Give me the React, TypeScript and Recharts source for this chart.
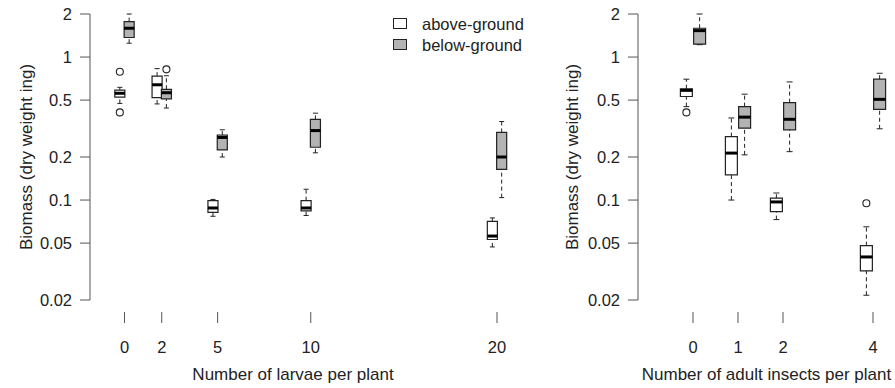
import React from 'react';
import { ComposedChart, XAxis, YAxis, Scatter, ReferenceArea, ReferenceLine } from 'recharts';

// Number of larvae per plant; each row is [min, q1, median, q3, max]
const larvaeCounts = [0, 2, 5, 10, 20];
const larvaeAbove = [
  [0.474, 0.524, 0.558, 0.588, 0.614],
  [0.47, 0.52, 0.64, 0.735, 0.83],
  [0.077, 0.082, 0.088, 0.099, 0.101],
  [0.078, 0.084, 0.088, 0.099, 0.119],
  [0.047, 0.053, 0.056, 0.071, 0.075],
];
const larvaeBelow = [
  [1.25, 1.37, 1.59, 1.77, 2.0],
  [0.44, 0.51, 0.563, 0.595, 0.74],
  [0.2, 0.224, 0.274, 0.285, 0.31],
  [0.214, 0.234, 0.306, 0.367, 0.405],
  [0.104, 0.164, 0.2, 0.297, 0.354],
];
const larvaeAboveOutliers = [[0, 0.79], [0, 0.41]];
const larvaeBelowOutliers = [[2, 0.82]];

// Number of adult insects per plant
const adultCounts = [0, 1, 2, 4];
const adultAbove = [
  [0.45, 0.53, 0.585, 0.6, 0.7],
  [0.1, 0.15, 0.213, 0.278, 0.375],
  [0.073, 0.083, 0.097, 0.103, 0.112],
  [0.0216, 0.032, 0.04, 0.048, 0.065],
];
const adultBelow = [
  [1.22, 1.23, 1.53, 1.59, 2.0],
  [0.207, 0.318, 0.38, 0.45, 0.55],
  [0.218, 0.31, 0.367, 0.48, 0.67],
  [0.315, 0.43, 0.506, 0.7, 0.77],
];
const adultAboveOutliers = [[0, 0.41], [4, 0.095]];
const adultBelowOutliers: number[][] = [];

const yTicks = [0.02, 0.05, 0.1, 0.2, 0.5, 1, 2];
const legendLabels = ['above-ground', 'below-ground'];

const INK = '#222';
const AXIS = '#555';
const GREY = '#b3b3b3';
const FONT = '"Liberation Sans", Arial, sans-serif';
const Y_AXIS_W = 90;

// whiskers, caps, box and median for one series, all placed in data units
function boxMarks(cats: number[], stats: number[][], shift: number, half: number, fill: string, id: string) {
  const cap = half / 2;
  return cats.flatMap((c, i) => {
    const [lo, q1, med, q3, hi] = stats[i];
    const x = c + shift;
    return [
      <ReferenceLine key={id + i + 'lw'} segment={[{ x, y: lo }, { x, y: q1 }]} stroke={INK} strokeDasharray="4 3" ifOverflow="visible" />,
      <ReferenceLine key={id + i + 'uw'} segment={[{ x, y: q3 }, { x, y: hi }]} stroke={INK} strokeDasharray="4 3" ifOverflow="visible" />,
      <ReferenceLine key={id + i + 'lc'} segment={[{ x: x - cap, y: lo }, { x: x + cap, y: lo }]} stroke={INK} ifOverflow="visible" />,
      <ReferenceLine key={id + i + 'uc'} segment={[{ x: x - cap, y: hi }, { x: x + cap, y: hi }]} stroke={INK} ifOverflow="visible" />,
      <ReferenceArea key={id + i + 'bx'} x1={x - half} x2={x + half} y1={q1} y2={q3} fill={fill} fillOpacity={1} stroke={INK} strokeWidth={1.2} ifOverflow="visible" />,
      <ReferenceLine key={id + i + 'md'} segment={[{ x: x - half, y: med }, { x: x + half, y: med }]} stroke="#000" strokeWidth={3} ifOverflow="visible" />,
    ];
  });
}

// R-style tick: short mark detached from the plot, label below
const XTick = (props: any) => {
  const { x, y, payload } = props;
  return (
    <g>
      <line x1={x} x2={x} y1={y + 12} y2={y + 23} stroke={AXIS} />
      <text x={x} y={y + 53} textAnchor="middle" fill={INK} fontSize={16.5} fontFamily={FONT}>
        {payload.value}
      </text>
    </g>
  );
};

const dot = (p: any) => <circle cx={p.cx} cy={p.cy} r={3.5} fill="#fff" stroke={INK} strokeWidth={1.1} />;

function Panel(props: {
  width: number;
  plotWidth: number;
  cats: number[];
  xDomain: [number, number];
  above: number[][];
  below: number[][];
  aboveOut: number[][];
  belowOut: number[][];
  shift: number;
  half: number;
  title: string;
  titleDx: number;
  yLabelX: number;
}) {
  const { width, plotWidth, cats, xDomain, above, below, aboveOut, belowOut, shift, half, title, titleDx, yLabelX } = props;
  const outPts = [
    ...aboveOut.map(([c, v]) => ({ x: c - shift, y: v })),
    ...belowOut.map(([c, v]) => ({ x: c + shift, y: v })),
  ];
  return (
    <ComposedChart width={width} height={388} margin={{ top: 14, right: width - Y_AXIS_W - plotWidth, bottom: 0, left: 0 }}>
      <XAxis
        type="number"
        dataKey="x"
        domain={xDomain}
        allowDataOverflow
        ticks={cats}
        interval={0}
        axisLine={false}
        tickLine={false}
        tickSize={0}
        tickMargin={0}
        height={88}
        tick={<XTick />}
        label={(p: any) => (
          <text x={p.viewBox.x + titleDx} y={380} textAnchor="middle" fill={INK} fontSize={17} fontFamily={FONT}>
            {title}
          </text>
        )}
      />
      <YAxis
        type="number"
        dataKey="y"
        scale="log"
        domain={[0.02, 2]}
        allowDataOverflow
        ticks={yTicks}
        interval={0}
        width={Y_AXIS_W}
        tickSize={10}
        tickMargin={8}
        stroke={AXIS}
        tick={{ fill: INK, fontSize: 16.5, fontFamily: FONT }}
        tickFormatter={(v: number) => String(v)}
        label={() => (
          <text
            x={yLabelX}
            y={157}
            transform={`rotate(-90, ${yLabelX}, 157)`}
            textAnchor="middle"
            fill={INK}
            fontSize={17}
            fontFamily={FONT}
          >
            Biomass (dry weight ing)
          </text>
        )}
      />
      {boxMarks(cats, above, -shift, half, '#fff', 'a')}
      {boxMarks(cats, below, shift, half, GREY, 'b')}
      <Scatter data={outPts} dataKey="y" isAnimationActive={false} shape={dot} legendType="none" />
    </ComposedChart>
  );
}

export default function App() {
  return (
    <div style={{ position: 'absolute', left: 0, top: 0, width: 895, height: 388, background: '#fff' }}>
      <div style={{ position: 'absolute', left: 0, top: 0 }}>
        <Panel
          width={548}
          plotWidth={444}
          cats={larvaeCounts}
          xDomain={[-1.852, 21.986]}
          above={larvaeAbove}
          below={larvaeBelow}
          aboveOut={larvaeAboveOutliers}
          belowOut={larvaeBelowOutliers}
          shift={0.25}
          half={0.27}
          title="Number of larvae per plant"
          titleDx={203}
          yLabelX={32}
        />
      </div>
      <div style={{ position: 'absolute', left: 548, top: 0 }}>
        <Panel
          width={347}
          plotWidth={257}
          cats={adultCounts}
          xDomain={[-1.222, 4.489]}
          above={adultAbove}
          below={adultBelow}
          aboveOut={adultAboveOutliers}
          belowOut={adultBelowOutliers}
          shift={0.147}
          half={0.133}
          title="Number of adult insects per plant"
          titleDx={128.5}
          yLabelX={30}
        />
      </div>
      <svg width={200} height={60} style={{ position: 'absolute', left: 385, top: 10 }}>
        {legendLabels.map((name, i) => (
          <g key={name}>
            <rect x={8.5} y={8.5 + i * 21} width={13} height={10} fill={i === 0 ? '#fff' : GREY} stroke={INK} />
            <text x={37} y={20 + i * 21} fill={INK} fontSize={16.5} fontFamily={FONT}>
              {name}
            </text>
          </g>
        ))}
      </svg>
    </div>
  );
}
